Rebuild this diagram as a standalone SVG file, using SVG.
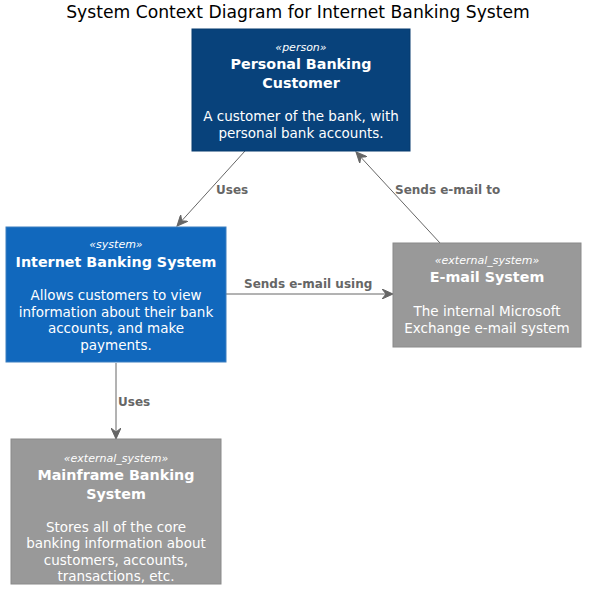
<svg xmlns="http://www.w3.org/2000/svg" width="590" height="603" viewBox="0 0 590 603">
<style>
text{font-family:"DejaVu Sans","Liberation Sans",sans-serif;text-anchor:middle;fill:#FFFFFF}
.title{font-size:17.2px;fill:#000000}
.st{font-size:11px;font-style:italic}
.nm{font-size:14.3px;font-weight:bold}
.ds{font-size:13.5px}
.lbl{font-size:12px;font-weight:bold;fill:#666666;text-anchor:start}
.edge{stroke:#666666;stroke-width:1;fill:none}
</style>
<defs>
<marker id="arr" viewBox="0 0 12 10" refX="11" refY="5" markerWidth="12" markerHeight="10" markerUnits="userSpaceOnUse" orient="auto">
<path d="M0,0 L11,5 L0,10 L4,5 Z" fill="#666666" stroke="#666666" stroke-width="1"/>
</marker>
</defs>
<rect width="590" height="603" fill="#FFFFFF"/>
<text class="title" x="298" y="18">System Context Diagram for Internet Banking System</text>
<g id="edges">
<line class="edge" x1="245" y1="151" x2="177" y2="226" marker-end="url(#arr)"/>
<text class="lbl" x="216" y="194">Uses</text>
<line class="edge" x1="440" y1="243" x2="356" y2="152" marker-end="url(#arr)"/>
<text class="lbl" x="395" y="194">Sends e-mail to</text>
<line class="edge" x1="226" y1="294" x2="393" y2="294" marker-end="url(#arr)"/>
<text class="lbl" x="244" y="288">Sends e-mail using</text>
<line class="edge" x1="116" y1="363" x2="116" y2="439" marker-end="url(#arr)"/>
<text class="lbl" x="118" y="406">Uses</text>
</g>
<g id="customer">
<rect x="192" y="29" width="218" height="122" fill="#08427B" stroke="#073B6F"/>
<text class="st" x="301" y="51">«person»</text>
<text class="nm" x="301" y="69">Personal Banking</text>
<text class="nm" x="301" y="88">Customer</text>
<text class="ds" x="301" y="121">A customer of the bank, with</text>
<text class="ds" x="301" y="138">personal bank accounts.</text>
</g>
<g id="ibs">
<rect x="6" y="227" width="220" height="135" fill="#1168BD" stroke="#3C7FC0"/>
<text class="st" x="116" y="248">«system»</text>
<text class="nm" x="116" y="267">Internet Banking System</text>
<text class="ds" x="116" y="300">Allows customers to view</text>
<text class="ds" x="116" y="317">information about their bank</text>
<text class="ds" x="116" y="333">accounts, and make</text>
<text class="ds" x="116" y="350">payments.</text>
</g>
<g id="email">
<rect x="393" y="243" width="188" height="104" fill="#999999" stroke="#8A8A8A"/>
<text class="st" x="487" y="264">«external_system»</text>
<text class="nm" x="487" y="282">E-mail System</text>
<text class="ds" x="487" y="316">The internal Microsoft</text>
<text class="ds" x="487" y="333">Exchange e-mail system</text>
</g>
<g id="mainframe">
<rect x="11" y="439" width="210" height="145" fill="#999999" stroke="#8A8A8A"/>
<text class="st" x="116" y="462">«external_system»</text>
<text class="nm" x="116" y="480">Mainframe Banking</text>
<text class="nm" x="116" y="499">System</text>
<text class="ds" x="116" y="532">Stores all of the core</text>
<text class="ds" x="116" y="548">banking information about</text>
<text class="ds" x="116" y="565">customers, accounts,</text>
<text class="ds" x="116" y="581">transactions, etc.</text>
</g>
</svg>
